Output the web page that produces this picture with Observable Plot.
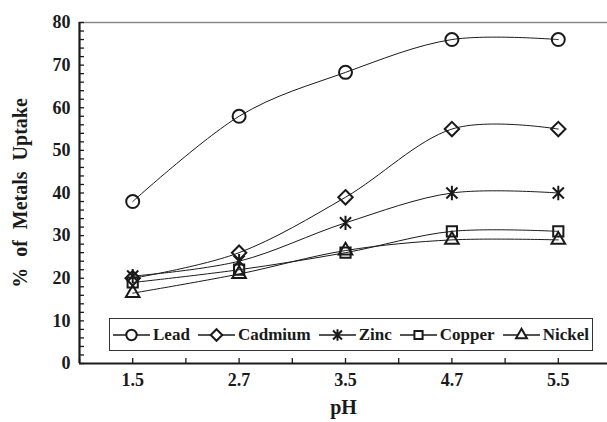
<!DOCTYPE html>
<html>
<head>
<meta charset="utf-8">
<script src="https://cdn.jsdelivr.net/npm/d3@7"></script>
<script src="https://cdn.jsdelivr.net/npm/@observablehq/plot@0.6"></script>
<style>
  html, body { margin: 0; padding: 0; background: #fff; }
  #wrap { position: relative; width: 607px; height: 422px; overflow: hidden; }
  #wrap svg text { font-family: "Liberation Serif", "Times New Roman", serif !important; font-weight: bold; }
  #legend {
    position: absolute; left: 109px; top: 318px; width: 484px; height: 33px;
    border: 1.3px solid #333; background: #fff;
    display: flex; align-items: center; justify-content: space-between;
    padding: 0 3px 0 3px; box-sizing: border-box;
    font-family: "Liberation Serif", "Times New Roman", serif; font-weight: bold; font-size: 17px; color: #1a1a1a;
  }
  .item { display: flex; align-items: center; white-space: nowrap; }
  .item svg { margin-right: 3px; }
</style>
</head>
<body>
<div id="wrap"></div>
<script>
const pH = ["1.5", "2.7", "3.5", "4.7", "5.5"];
const metals = ["Lead", "Cadmium", "Zinc", "Copper", "Nickel"];
const lead    = [38, 58, 68.3, 76, 76];
const cadmium = [20, 26, 39, 55, 55];
const zinc    = [20.5, 24, 33, 40, 40];
const copper  = [19, 22, 26, 31, 31];
const nickel  = [16.5, 21, 26.5, 29, 29];
const yTicks = [0, 10, 20, 30, 40, 50, 60, 70, 80];

const seriesValues = [lead, cadmium, zinc, copper, nickel];
const data = [];
metals.forEach((m, k) => seriesValues[k].forEach((v, i) => data.push({metal: m, i, v})));

// Excel-like star: X plus vertical line
const starSymbol = {
  draw(context, size) {
    const r = Math.sqrt(size) * 0.62;
    const d = r * 0.78;
    context.moveTo(0, -r); context.lineTo(0, r);
    context.moveTo(-d, -d); context.lineTo(d, d);
    context.moveTo(-d, d); context.lineTo(d, -d);
  }
};
const symbols = [d3.symbolCircle, d3.symbolDiamond2, starSymbol, d3.symbolSquare2, d3.symbolTriangle2];

const halfTicks = d3.range(-0.5, pH.length, 0.5);
const minorY = d3.range(0, 81, 2);

const chart = Plot.plot({
  width: 607,
  height: 422,
  marginTop: 22,
  marginBottom: 59,
  marginLeft: 79,
  marginRight: 0,
  style: {background: "#fff", color: "#1a1a1a"},
  x: {type: "linear", domain: [-0.5, pH.length - 0.5], range: [79, 611]},
  y: {domain: [0, 80]},
  symbol: {domain: metals, range: symbols},
  marks: [
    Plot.ruleY([80], {stroke: "#8a8a8a", strokeWidth: 1.5}),
    Plot.axisY({ticks: minorY, tickSize: -5, tickFormat: () => "", strokeWidth: 1.3, label: null}),
    Plot.axisY({ticks: yTicks, tickSize: 0, tickPadding: 9, fontSize: 18, label: null, tickFormat: d => d}),
    Plot.axisX({ticks: halfTicks, tickSize: -5, tickFormat: () => "", strokeWidth: 1.3, label: null}),
    Plot.axisX({ticks: d3.range(pH.length), tickSize: 0, tickPadding: 10, fontSize: 18, label: null, tickFormat: i => pH[i]}),
    Plot.ruleX([-0.5], {stroke: "#1a1a1a", strokeWidth: 2.2}),
    Plot.ruleY([0], {stroke: "#1a1a1a", strokeWidth: 2.2}),
    Plot.line(data, {x: "i", y: "v", z: "metal", curve: "cardinal", stroke: "#1a1a1a", strokeWidth: 1}),
    Plot.dot(data, {x: "i", y: "v", symbol: "metal", r: 6.5, stroke: "#1a1a1a", strokeWidth: 2, fill: "none"}),
    Plot.text(["% of Metals Uptake"], {frameAnchor: "left", textAnchor: "middle", rotate: -90, dx: -59, fontSize: 20, fill: "#1a1a1a"}),
    Plot.text(["pH"], {frameAnchor: "bottom", dy: 50, fontSize: 20, fill: "#1a1a1a"})
  ]
});

d3.select(chart).selectAll("text").filter(function() { return this.textContent === "% of Metals Uptake"; })
  .style("word-spacing", "6px");

const wrap = document.getElementById("wrap");
wrap.appendChild(chart);

// Legend overlay
const legend = document.createElement("div");
legend.id = "legend";
metals.forEach((m, k) => {
  const item = document.createElement("div");
  item.className = "item";
  const svg = d3.create("svg").attr("width", 37).attr("height", 20);
  svg.append("line").attr("x1", 0).attr("x2", 37).attr("y1", 10).attr("y2", 10)
    .attr("stroke", "#1a1a1a").attr("stroke-width", 1.5);
  svg.append("path").attr("transform", "translate(18.5,10)")
    .attr("d", d3.symbol(symbols[k], Math.PI * 5.2 * 5.2)())
    .attr("fill", "#fff").attr("stroke", "#1a1a1a").attr("stroke-width", 2);
  item.appendChild(svg.node());
  const span = document.createElement("span");
  span.textContent = m;
  item.appendChild(span);
  legend.appendChild(item);
});
wrap.appendChild(legend);
</script>
</body>
</html>
